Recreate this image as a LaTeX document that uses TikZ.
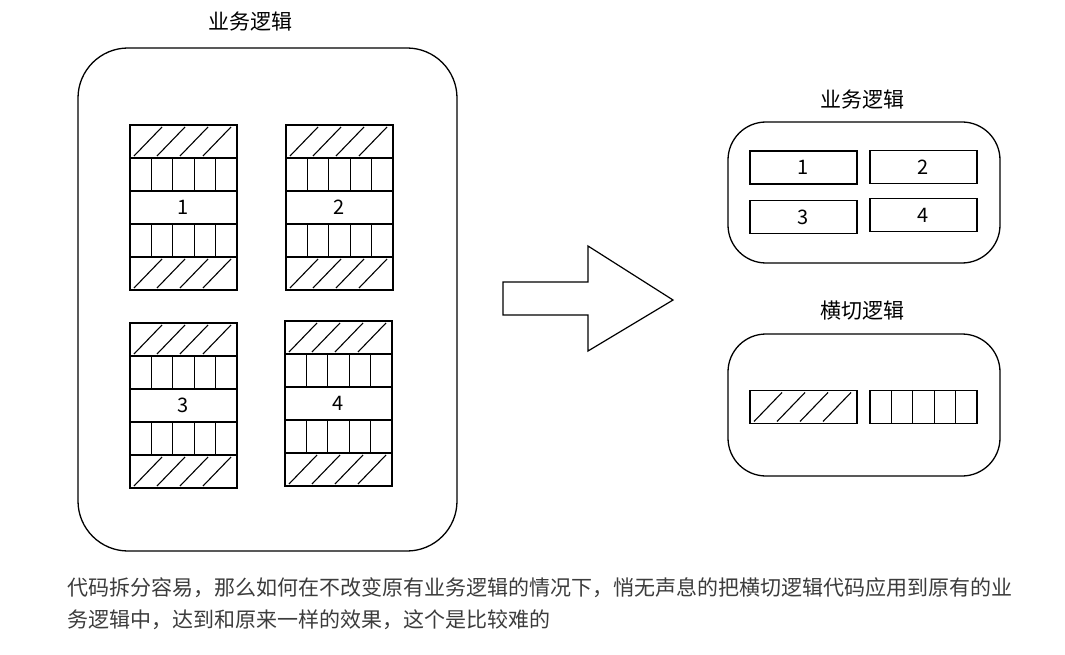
\documentclass[tikz,border=0pt]{standalone}
\usepackage{fontspec}
\setmainfont{Noto Sans CJK SC}
\usetikzlibrary{positioning}
\definecolor{captiongray}{RGB}{60, 60, 60}

\tikzset{
    part/.style={draw, line width=1.2pt, minimum width=107pt, minimum height=33pt,
        inner sep=0pt, outer sep=0pt, font=\fontsize{20}{20}\selectfont},
    hatchpart/.style={part, path picture={
        \foreach \k in {0,...,3}
            \draw[line width=1.1pt] ([xshift=\k*23pt+4pt, yshift=2pt]path picture bounding box.south west) -- ++(28pt,29pt);
    }},
    barpart/.style={part, path picture={
        \foreach \k in {1,...,4}
            \draw[line width=1.1pt] ([xshift=\k*21.4pt]path picture bounding box.south west) -- ++(0pt,33pt);
    }},
    container/.style={draw, line width=1.3pt, inner sep=0pt},
    title/.style={font=\fontsize{21}{21}\selectfont},
    caption/.style={anchor=west, inner sep=0pt, text=captiongray, font=\fontsize{21}{21}\selectfont}
}

\begin{document}
\begin{tikzpicture}[x=1pt, y=-1pt]
    \useasboundingbox (0,0) rectangle (1065,655);

    % 左侧：业务逻辑
    \node[container, rounded corners=50pt, minimum width=379pt, minimum height=503pt] (biz) at (267.5, 299.5) {};
    \node[title] (biztitle) at (250, 22) {业务逻辑};

    % 四个代码块
    \foreach \n/\x/\y in {1/183.5/125, 2/339.5/125, 3/183.5/323, 4/338.5/321} {
        \node[hatchpart, anchor=north] (b\n top) at (\x, \y) {};
        \node[barpart, below=0pt of b\n top] (b\n upper) {};
        \node[part, below=0pt of b\n upper] (b\n mid) {\n};
        \node[barpart, below=0pt of b\n mid] (b\n lower) {};
        \node[hatchpart, below=0pt of b\n lower] (b\n bottom) {};
    }

    % 箭头
    \draw[line width=1.2pt] (503,282) -- (588,282) -- (588,246) -- (673,300)
        -- (588,351) -- (588,315) -- (503,315) -- cycle;

    % 右上：业务逻辑
    \node[container, rounded corners=38pt, minimum width=272pt, minimum height=141pt] (core) at (864, 192.5) {};
    \node[title] (coretitle) at (862, 100) {业务逻辑};
    \node[part] (c1) at (803.5, 167.5) {1};
    \node[part] (c2) at (923.5, 167) {2};
    \node[part] (c3) at (803.5, 217) {3};
    \node[part] (c4) at (923.5, 215) {4};

    % 右下：横切逻辑
    \node[container, rounded corners=38pt, minimum width=272pt, minimum height=142pt] (aspect) at (864, 405) {};
    \node[title] (aspecttitle) at (862, 311) {横切逻辑};
    \node[hatchpart] (a1) at (803.5, 407) {};
    \node[barpart] (a2) at (923.5, 407) {};

    % 说明文字
    \node[caption] (line1) at (67, 588) {代码拆分容易，那么如何在不改变原有业务逻辑的情况下，悄无声息的把横切逻辑代码应用到原有的业};
    \node[caption] (line2) at (67, 620) {务逻辑中，达到和原来一样的效果，这个是比较难的};
\end{tikzpicture}
\end{document}
